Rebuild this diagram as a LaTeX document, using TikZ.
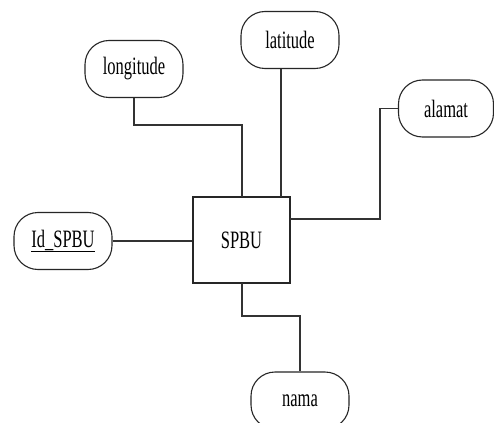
\documentclass[tikz,border=0pt]{standalone}
\usepackage{fontspec}
\setmainfont{Liberation Serif}[FakeStretch=0.66]
\begin{document}
\begin{tikzpicture}[x=1pt,y=-1pt,
  attr/.style={draw=black!85, line width=1.1pt, rounded corners=24pt,
    minimum width=98pt, minimum height=57pt, inner sep=0pt,
    font=\fontsize{25}{28}\selectfont},
  entity/.style={draw=black!85, line width=1.1pt,
    minimum width=97pt, minimum height=86pt, inner sep=0pt,
    font=\fontsize{25}{28}\selectfont},
  link/.style={draw=black!80, line width=1.1pt}]
  \clip (0,0) rectangle (494,422);
  \fill[white] (0,0) rectangle (494,422);

  % entity and its attributes
  \node[entity] (spbu) at (241.5,240) {SPBU};
  \node[attr] (lon) at (134,69) {longitude};
  \node[attr] (lat) at (290,40) {latitude};
  \node[attr, minimum width=95pt] (alm) at (446,108.5) {alamat};
  \node[attr] (id) at (63,241) {\underline{Id\_SPBU}};
  \node[attr] (nama) at (300,400.5) {nama};

  % connectors
  \draw[link] (lon.south) |- (242,125) -- (242,197);
  \draw[link] (281,69) -- (281,197);
  \draw[link] (alm.west) -- (380,108.5) |- (290,219);
  \draw[link, line width=1.5pt] (id.east) -- (id.east -| spbu.west);
  \draw[link] (242,283) |- (300,316) -- (nama.north);
\end{tikzpicture}
\end{document}
